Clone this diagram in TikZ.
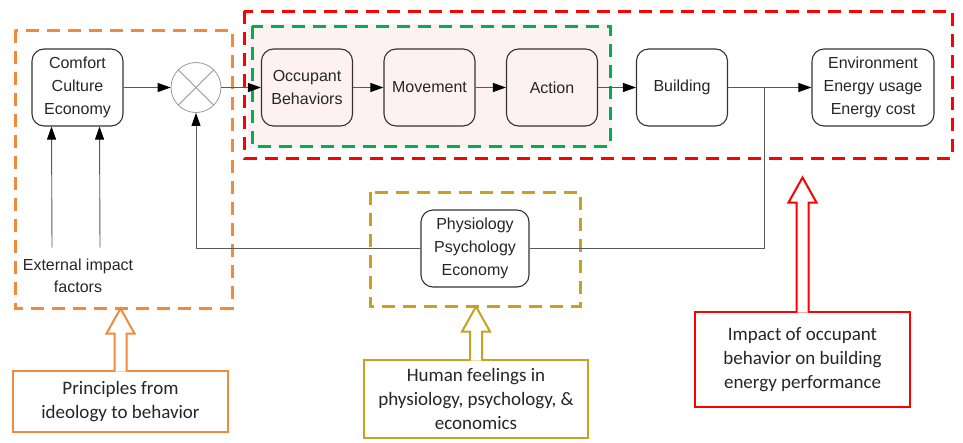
\documentclass[tikz,border=0pt]{standalone}
\usepackage{fontspec}
\setmainfont{Liberation Sans}
\newfontfamily\notefont{Carlito}
\usetikzlibrary{arrows.meta}

\definecolor{grporange}{HTML}{F08A3C}
\definecolor{grpred}{HTML}{FF0000}
\definecolor{grpgreen}{HTML}{00B050}
\definecolor{grpgold}{HTML}{C9A11F}
\definecolor{pinkfill}{HTML}{FDF1F1}

\tikzset{
  block/.style={draw=black!80, line width=1.1pt, rounded corners=12pt,
    minimum width=91pt, minimum height=77pt, align=center,
    font=\fontsize{16}{23}\selectfont, text=black!85},
  conn/.style={draw=black!65, line width=0.9pt,
    -{Triangle[length=13pt,width=9pt,color=black]}},
  link/.style={draw=black!65, line width=0.9pt},
  group/.style={line width=3pt, dash pattern=on 13pt off 8pt},
  note/.style={draw, line width=2pt, fill=white, align=center,
    font=\notefont\fontsize{19}{24}\selectfont, text=black!85},
}

% hollow arrow going up from the top of a note
\newcommand{\hollowup}[3]{%
  \draw[#1, line width=2pt, fill=white, line join=miter]
    ([xshift=-6pt,yshift=-1.5pt]#2.north) -- ++(0,-#3+25) -- ++(-8,0)
    -- ++(14,-25) -- ++(14,25) -- ++(-8,0) -- ++(0,#3-25);}

\begin{document}
\begin{tikzpicture}[x=1pt, y=-1pt]
  \useasboundingbox (0,0) rectangle (963,442);

  % groups
  \fill[pinkfill] (248,24) rectangle (612,148);
  \draw[group, grpred] (244,11) rectangle (952,158);
  \draw[group, grpgreen] (252,26) rectangle (610,146);
  \draw[group, grporange] (15,30) rectangle (232,308);
  \draw[group, grpgold] (370,192) rectangle (580,306);

  % blocks
  \node[block] (comfort) at (77.5,87.5) {Comfort\\Culture\\Economy};
  \node[circle, draw=black!40, line width=0.8pt, minimum size=50pt, inner sep=0pt] (mix) at (196,87.5) {};
  \draw[black!40, line width=0.8pt] (mix.north west) -- (mix.south east);
  \draw[black!40, line width=0.8pt] (mix.north east) -- (mix.south west);
  \node[block] (occ) at (307,87.5) {Occupant\\Behaviors};
  \node[block] (move) at (429.5,87.5) {Movement};
  \node[block] (act) at (552,87.5) {Action};
  \node[block] (bldg) at (682,87.5) {Building};
  \node[block, minimum width=122pt] (env) at (873,87.5) {Environment\\Energy usage\\Energy cost};
  \node[block, minimum width=108pt, fill=white] (phys) at (475,248.5) {Physiology\\Psychology\\Economy};
  \node[align=center, font=\fontsize{16}{22}\selectfont, text=black!85] (ext) at (78,276) {External impact\\factors};
  \coordinate (split) at (764,87.5);

  % connectors
  \draw[conn] ([xshift=-26pt,yshift=8pt]ext.north) -- ([xshift=-26pt]comfort.south);
  \draw[conn] ([xshift=22pt,yshift=8pt]ext.north) -- ([xshift=22pt]comfort.south);
  \draw[conn] (comfort) -- (mix);
  \draw[conn] (mix) -- (occ);
  \draw[conn] (occ) -- (move);
  \draw[conn] (move) -- (act);
  \draw[conn] (act) -- (bldg);
  \draw[link] (bldg) -- (split);
  \draw[conn] (split) -- (env);
  \draw[link] (split) |- (phys.east);
  \draw[conn] (phys.west) -| (mix.south);

  % notes
  \node[note, draw=grporange, minimum width=215pt, minimum height=61pt] (ideo) at (120.5,401.5) {Principles from\\ideology to behavior};
  \node[note, draw=grpgold, minimum width=224pt, minimum height=78pt] (feel) at (476,399) {Human feelings in\\physiology, psychology, \&\\economics};
  \node[note, draw=grpred, minimum width=215pt, minimum height=95pt] (impact) at (802.5,359.5) {Impact of occupant\\behavior on building\\energy performance};
  \hollowup{grporange}{ideo}{63}
  \hollowup{grpgold}{feel}{54}
  \hollowup{grpred}{impact}{135}
\end{tikzpicture}
\end{document}
